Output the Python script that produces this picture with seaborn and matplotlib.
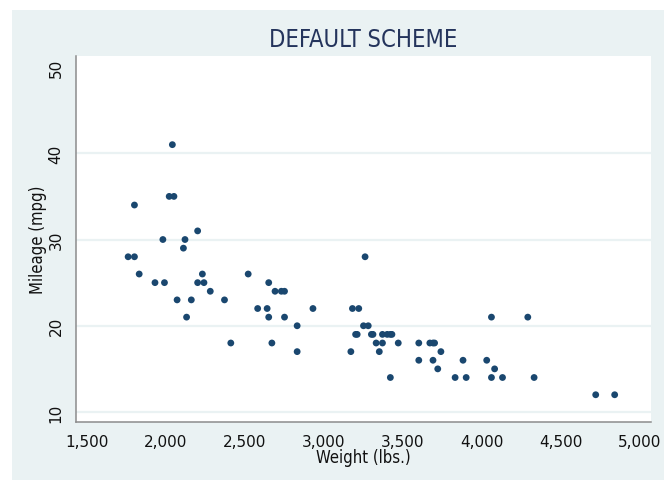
import pandas as pd
import matplotlib
matplotlib.use('Agg')
import matplotlib.pyplot as plt
from matplotlib.patches import Rectangle
from matplotlib.ticker import FuncFormatter
import seaborn as sns

sns.set_style('white')

# 1978 auto data: weight (lbs.) and mileage (mpg)
weight = [2930, 3350, 2640, 3250, 4080, 3670, 2230, 3280, 3880, 3400,
          4330, 3900, 4290, 2110, 3690, 3180, 3220, 2750, 3430, 2120,
          3600, 3600, 3740, 1800, 2650, 4840, 4720, 3830, 2580, 4060,
          3720, 3370, 4130, 2830, 4060, 3310, 3300, 3690, 3370, 2730,
          4030, 3260, 1800, 2200, 2520, 3330, 3700, 3470, 3210, 3200,
          3420, 2690, 2830, 2070, 2650, 2370, 2020, 2280, 2750, 2130,
          2240, 1760, 1980, 3420, 1830, 2050, 2410, 2200, 2670, 2160,
          2040, 1930, 1990, 3170]
mpg = [22, 17, 22, 20, 15, 18, 26, 20, 16, 19,
       14, 14, 21, 29, 16, 22, 22, 24, 19, 30,
       18, 16, 17, 28, 21, 12, 12, 14, 22, 14,
       15, 18, 14, 20, 21, 19, 19, 18, 19, 24,
       16, 28, 34, 25, 26, 18, 18, 18, 19, 19,
       19, 24, 17, 23, 25, 23, 35, 24, 21, 21,
       25, 28, 30, 14, 26, 35, 18, 31, 18, 23,
       41, 25, 25, 17]

df = pd.DataFrame({'weight': weight, 'mpg': mpg})

bg = '#eaf2f3'
navy = '#1a476f'
axis_grey = '#8c8c8c'

fig = plt.figure(figsize=(6.64, 4.81), dpi=100)
fig.patch.set_facecolor('white')
fig.patches.append(Rectangle((12 / 664, 0), 1, 1 - 11 / 481, transform=fig.transFigure,
                             facecolor=bg, edgecolor='none', zorder=-10))

ax = fig.add_axes([76 / 664, 1 - 423 / 481, (651 - 76) / 664, (423 - 57) / 481])
ax.set_facecolor('white')

sns.scatterplot(data=df, x='weight', y='mpg', ax=ax, color=navy, s=24,
                edgecolor='none', zorder=3)

ax.set_xlim(1430, 5070)
ax.set_ylim(8.84, 51.28)
ax.set_xticks([1500, 2000, 2500, 3000, 3500, 4000, 4500, 5000])
ax.set_yticks([10, 20, 30, 40, 50])
ax.xaxis.set_major_formatter(FuncFormatter(lambda v, p: f'{int(v):,}'))

for y in [10, 20, 30, 40]:
    ax.axhline(y, color=bg, lw=1.6, zorder=1)

for side in ['top', 'right']:
    ax.spines[side].set_visible(False)
for side in ['left', 'bottom']:
    ax.spines[side].set_color(axis_grey)
    ax.spines[side].set_linewidth(1.1)

ax.tick_params(axis='both', direction='out', length=6, width=1, color=axis_grey,
               labelsize=11, labelcolor='#111111', pad=3)
ax.tick_params(axis='y', labelrotation=90)
for lab in ax.get_yticklabels():
    lab.set_va('center')

narrow = dict(family='DejaVu Sans', stretch='condensed')
ax.set_xlabel('Weight (lbs.)', fontsize=12, color='#111111', labelpad=-1, **narrow)
ax.set_ylabel('Mileage (mpg)', fontsize=12, color='#111111', labelpad=1, **narrow)
ax.set_title('DEFAULT SCHEME', fontsize=17, color='#24345c', pad=7, **narrow)

fig.savefig('out.png', dpi=100, facecolor=fig.get_facecolor())
